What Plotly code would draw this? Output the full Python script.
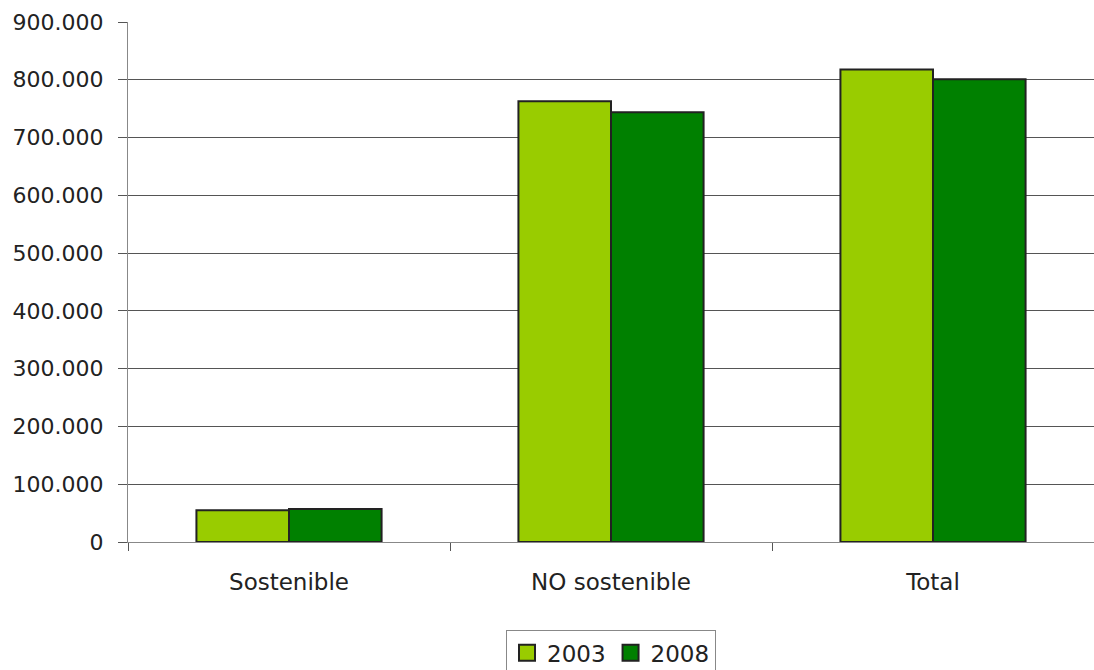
import plotly.graph_objects as go

categories = ["Sostenible", "NO sostenible", "Total"]
values_2003 = [55000, 763000, 818000]
values_2008 = [57000, 744000, 801000]
series_names = ["2003", "2008"]
series_colors = ["#99CC00", "#008000"]
y_tickvals = [0, 100000, 200000, 300000, 400000, 500000, 600000, 700000, 800000, 900000]
y_ticktext = ["0", "100.000", "200.000", "300.000", "400.000", "500.000",
              "600.000", "700.000", "800.000", "900.000"]

FONT = "DejaVu Sans"
TEXT = "#222222"
EDGE = "#222222"

fig = go.Figure()
for name, vals, color in zip(series_names, [values_2003, values_2008], series_colors):
    fig.add_trace(go.Bar(
        name=name, x=categories, y=vals, showlegend=False,
        marker=dict(color=color, line=dict(color=EDGE, width=2)),
    ))
# legend swatches: larger bordered squares
for name, color in zip(series_names, series_colors):
    fig.add_trace(go.Scatter(
        name=name, x=[None], y=[None], mode="markers",
        marker=dict(symbol="square", size=18, color=color,
                    line=dict(color=EDGE, width=2)),
    ))

fig.update_layout(
    width=1094, height=670,
    margin=dict(l=128, r=0, t=22, b=128, autoexpand=False),
    paper_bgcolor="white", plot_bgcolor="white",
    barmode="group", bargap=0.425, bargroupgap=0,
    font=dict(family=FONT, size=22, color=TEXT),
    showlegend=True,
    legend=dict(
        orientation="h", x=0.5, xanchor="center", y=-0.17, yanchor="top",
        bordercolor="#888888", borderwidth=1, bgcolor="white",
        font=dict(family=FONT, size=23, color=TEXT),
        itemwidth=30, tracegroupgap=0, itemsizing="trace",
    ),
    xaxis=dict(
        showline=True, linecolor="#888888", linewidth=1,
        ticks="outside", tickson="boundaries", ticklen=8, tickcolor="#555555",
        showgrid=False, automargin=False, ticklabelstandoff=19,
        tickfont=dict(family=FONT, size=23, color=TEXT),
    ),
    yaxis=dict(
        range=[0, 900000], tickvals=y_tickvals, ticktext=y_ticktext,
        showline=True, linecolor="#888888", linewidth=1,
        ticks="outside", ticklen=9, tickcolor="#555555",
        showgrid=True, gridcolor="#555555", gridwidth=1,
        zeroline=False, automargin=False, ticklabelstandoff=10,
        tickfont=dict(family=FONT, size=22, color=TEXT),
    ),
)

fig.write_html("out.html")
